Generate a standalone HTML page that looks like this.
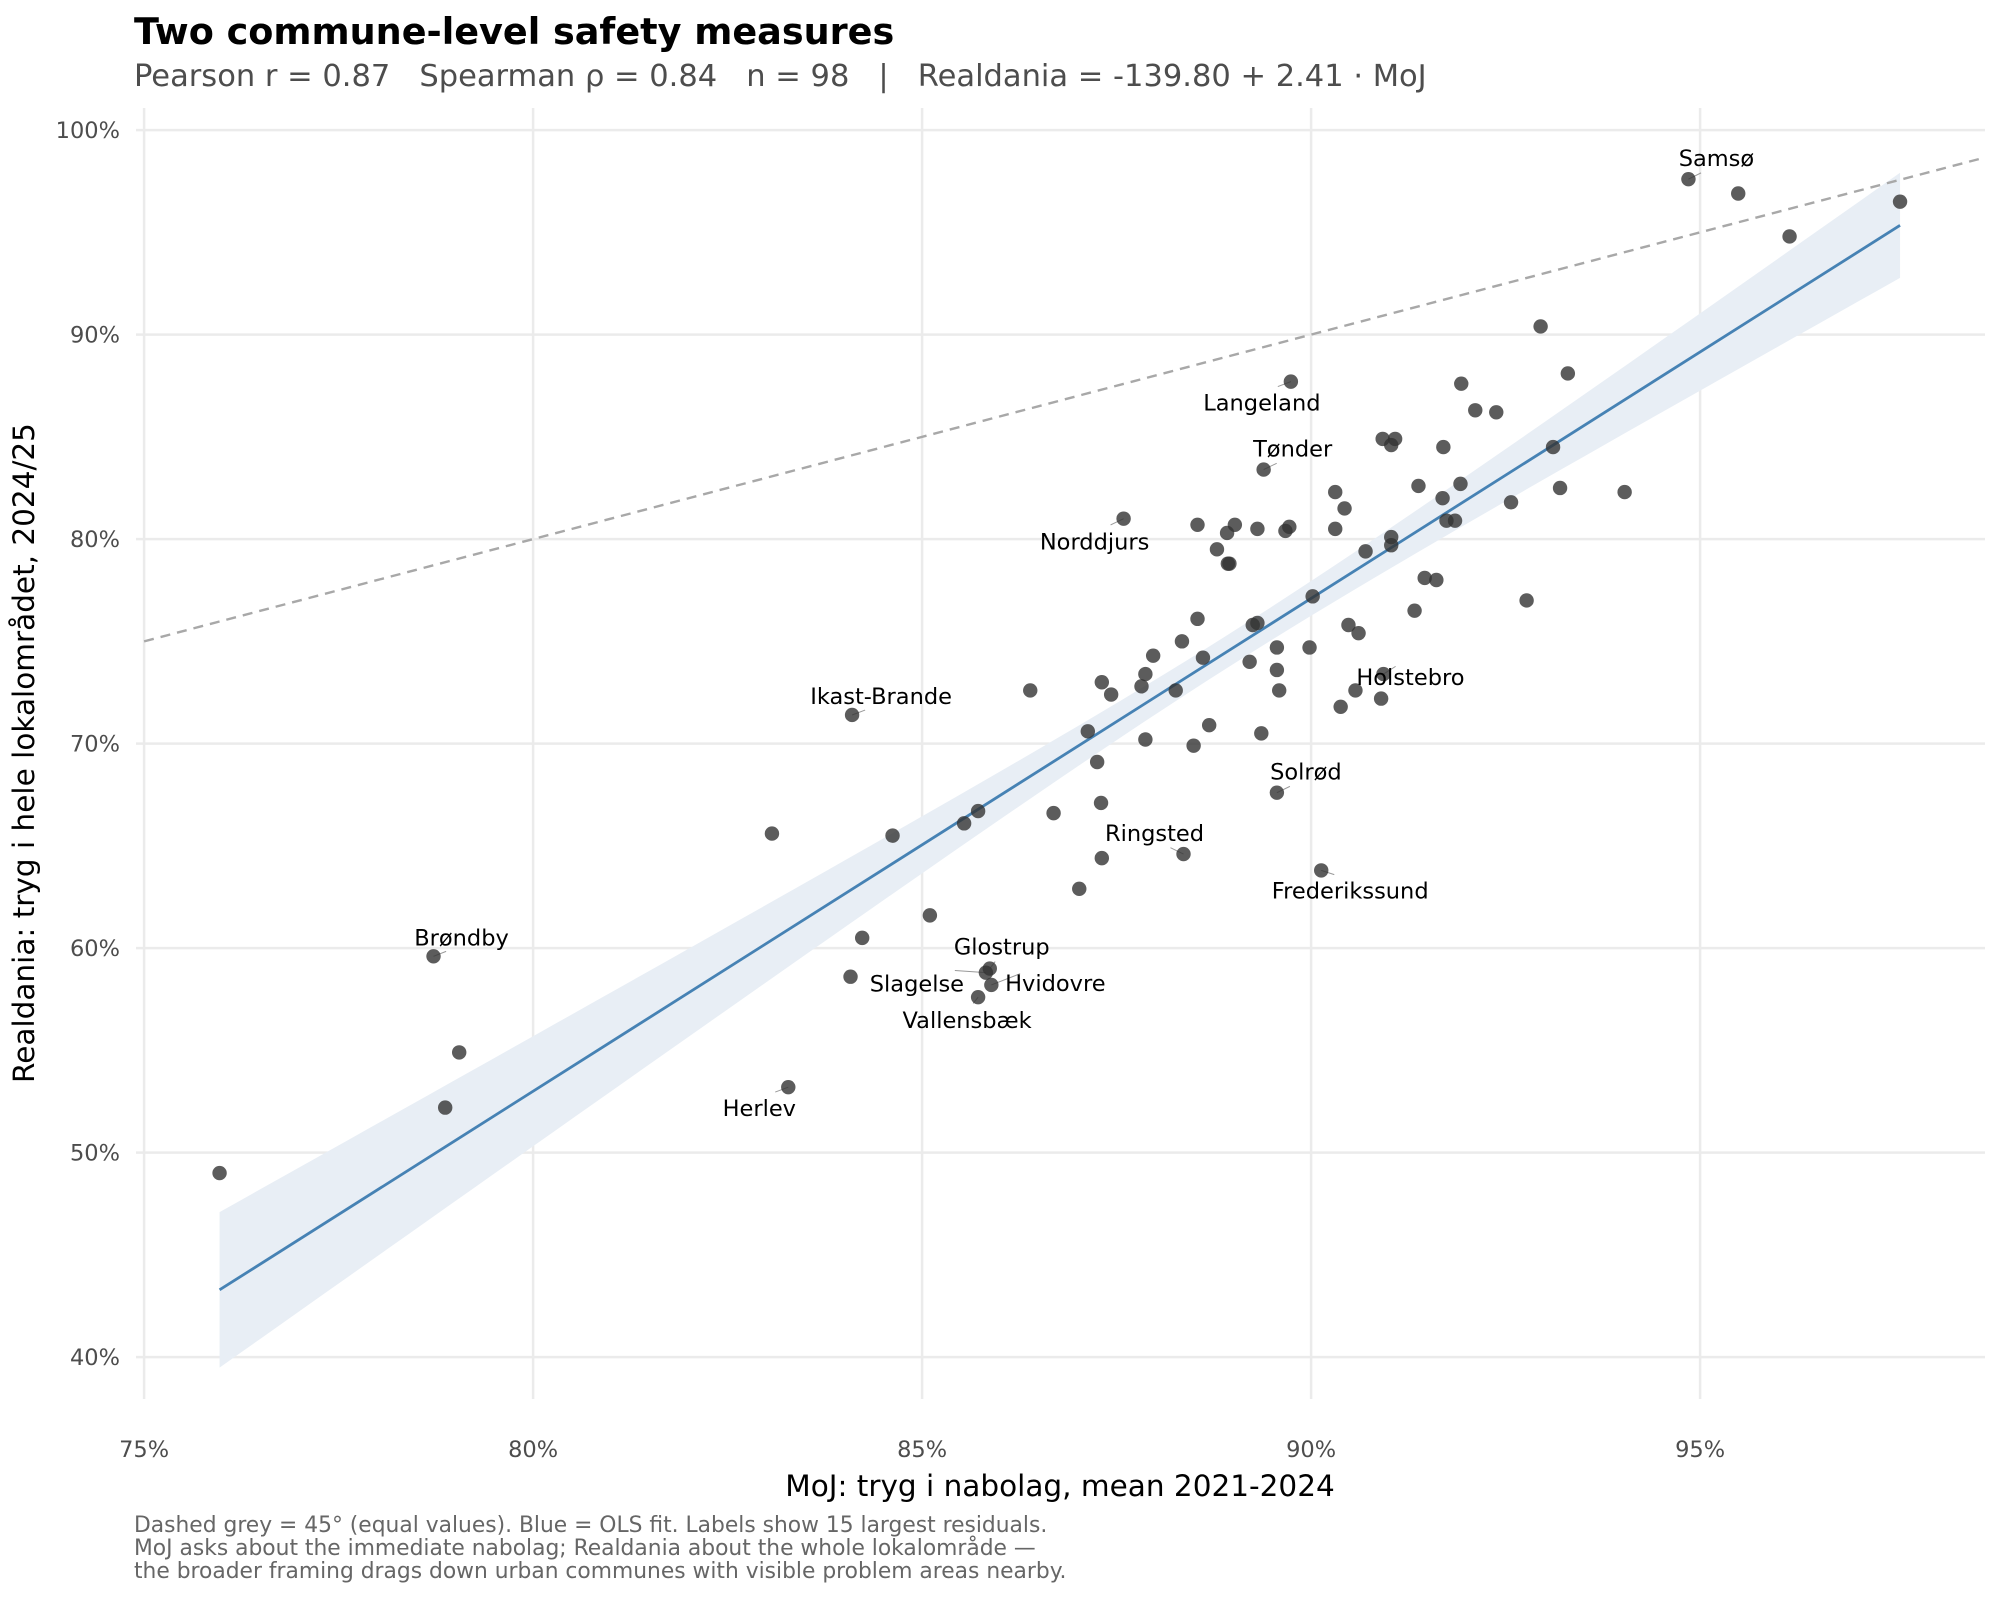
<!DOCTYPE html>
<html><head><meta charset="utf-8"><style>
body{margin:0;background:#fff}
svg{display:block;font-family:"DejaVu Sans","Liberation Sans",sans-serif}
text{white-space:pre}
</style></head><body>
<svg id="chart" width="2000" height="1600" viewBox="0 0 2000 1600" xml:space="preserve">
<rect width="2000" height="1600" fill="#fff"/>
<text x="134" y="44" font-size="36.6" font-weight="bold" fill="#000">Two commune-level safety measures</text>
<text x="134" y="86" font-size="30.5" fill="#4d4d4d">Pearson r = 0.87   Spearman ρ = 0.84   n = 98   |   Realdania = -139.80 + 2.41 · MoJ</text>
<g id="grid"></g>
<g id="band"></g>
<g id="marks"></g>
<g id="axes"></g>
<text x="1060" y="1496" font-size="29.5" text-anchor="middle" fill="#000">MoJ: tryg i nabolag, mean 2021-2024</text>
<text transform="translate(34,753) rotate(-90)" font-size="29.5" text-anchor="middle" fill="#000">Realdania: tryg i hele lokalområdet, 2024/25</text>
<g font-size="21.8" fill="#666">
<text x="134" y="1532">Dashed grey = 45° (equal values). Blue = OLS fit. Labels show 15 largest residuals.</text>
<text x="134" y="1555">MoJ asks about the immediate nabolag; Realdania about the whole lokalområde —</text>
<text x="134" y="1578">the broader framing drags down urban communes with visible problem areas nearby.</text>
</g>
</svg>
<script>
const xTicks=[75,80,85,90,95];
const yTicks=[40,50,60,70,80,90,100];
const xTickLabels=["75%","80%","85%","90%","95%"];
const yTickLabels=["40%","50%","60%","70%","80%","90%","100%"];
const mojValues=[75.97,78.72,78.87,79.05,83.07,83.28,84.10,84.08,84.23,84.62,85.10,85.54,85.72,85.72,85.82,85.87,85.89,86.39,86.69,87.02,87.13,87.25,87.30,87.31,87.31,87.43,87.59,87.82,87.87,87.87,87.97,88.26,88.34,88.36,88.49,88.54,88.54,88.61,88.69,88.79,88.92,88.93,88.95,89.02,89.21,89.25,89.31,89.31,89.36,89.39,89.56,89.56,89.56,89.59,89.67,89.72,89.74,89.98,90.02,90.13,90.31,90.31,90.38,90.43,90.48,90.57,90.61,90.70,90.90,90.92,90.93,91.03,91.03,91.03,91.08,91.33,91.38,91.46,91.61,91.69,91.70,91.74,91.85,91.92,91.93,92.11,92.38,92.57,92.77,92.95,93.11,93.20,93.30,94.03,94.85,95.49,96.15,97.57];
const realdaniaValues=[49.0,59.6,52.2,54.9,65.6,53.2,71.4,58.6,60.5,65.5,61.6,66.1,66.7,57.6,58.8,59.0,58.2,72.6,66.6,62.9,70.6,69.1,67.1,64.4,73.0,72.4,81.0,72.8,73.4,70.2,74.3,72.6,75.0,64.6,69.9,76.1,80.7,74.2,70.9,79.5,80.3,78.8,78.8,80.7,74.0,75.8,75.9,80.5,70.5,83.4,67.6,74.7,73.6,72.6,80.4,80.6,87.7,74.7,77.2,63.8,82.3,80.5,71.8,81.5,75.8,72.6,75.4,79.4,72.2,84.9,73.4,84.6,80.1,79.7,84.9,76.5,82.6,78.1,78.0,82.0,84.5,80.9,80.9,82.7,87.6,86.3,86.2,81.8,77.0,90.4,84.5,82.5,88.1,82.3,97.6,96.9,94.8,96.5];
const labelIndex=[94,56,49,26,6,70,50,33,59,1,15,14,16,13,5];
const labelNames=["Samsø","Langeland","Tønder","Norddjurs","Ikast-Brande","Holstebro","Solrød","Ringsted","Frederikssund","Brøndby","Glostrup","Slagelse","Hvidovre","Vallensbæk","Herlev"];
const labelDx=[28,-29,29,-29,29,27,29,-29,29,28,12,-69,64,-11,-29];
const labelDy=[-13,29,-13,31,-11,11,-13,-13,28,-11,-14,19,6,31,29];
const fitIntercept=-139.80, fitSlope=2.41;

const NS="http://www.w3.org/2000/svg";
const X0=144.1,XS=77.8,Y0=130.1,YS=20.45;
const PL=144,PR=1985,PT=108,PB=1399;
const sx=v=>X0+(v-75)*XS;
const sy=v=>Y0+(100-v)*YS;
function mk(tag,attrs,parent){const e=document.createElementNS(NS,tag);for(const k in attrs)e.setAttribute(k,attrs[k]);parent.appendChild(e);return e;}
const grid=document.getElementById('grid'),axes=document.getElementById('axes'),marks=document.getElementById('marks'),band=document.getElementById('band');
xTicks.forEach((t,i)=>{
  const l=mk('line',{x1:sx(t),x2:sx(t),y1:PT,y2:PB,stroke:'#ebebeb','stroke-width':2.5},grid);
  
  
  const tx=mk('text',{x:sx(t),y:1457,'font-size':22.5,'text-anchor':'middle',fill:'#4d4d4d'},axes);
  tx.textContent=xTickLabels[i];
  
  
});
yTicks.forEach((t,i)=>{
  const l=mk('line',{x1:PL-8,x2:PR,y1:sy(t),y2:sy(t),stroke:'#ebebeb','stroke-width':2.5},grid);
  
  
  const tx=mk('text',{x:120,y:sy(t)+8,'font-size':22.5,'text-anchor':'end',fill:'#4d4d4d'},axes);
  tx.textContent=yTickLabels[i];
  
  
});
const xEnd=75+(PR-X0)/XS;
const dl=mk('line',{x1:sx(75),y1:sy(75),x2:sx(xEnd),y2:sy(xEnd),stroke:'#a8a8a8','stroke-width':2.4,'stroke-dasharray':'10,7'},marks);


const n=mojValues.length;
const mx=mojValues.reduce((a,b)=>a+b,0)/n;
const xmin=Math.min(...mojValues),xmax=Math.max(...mojValues);
const up=[],lo=[];
for(let i=0;i<=80;i++){
  const x=xmin+(xmax-xmin)*i/80;
  const yh=fitIntercept+fitSlope*x;
  const hw=Math.sqrt(0.64+0.0814*(x-mx)*(x-mx));
  up.push(sx(x)+','+sy(yh+hw));lo.unshift(sx(x)+','+sy(yh-hw));
}
const bp=mk('polygon',{points:up.concat(lo).join(' '),fill:'#e8eef5'},band);


const fl=mk('line',{x1:sx(xmin),y1:sy(fitIntercept+fitSlope*xmin),x2:sx(xmax),y2:sy(fitIntercept+fitSlope*xmax),stroke:'#4682b4','stroke-width':2.8},marks);


labelIndex.forEach((pi,k)=>{
  const px=sx(mojValues[pi]),py=sy(realdaniaValues[pi]);
  const tx=px+labelDx[k],ty=py+labelDy[k];
  const cy=labelDy[k]<0?ty+4:ty-22;
  const seg=mk('line',{x1:px,y1:py,x2:px+(tx-px)*0.45,y2:py+(cy-py)*0.7,stroke:'#999','stroke-width':1},marks);
  
  
});
mojValues.forEach((v,i)=>{
  const c=mk('circle',{cx:sx(v),cy:sy(realdaniaValues[i]),r:7.2,fill:'#333','fill-opacity':0.8},marks);
  
  
});
labelIndex.forEach((pi,k)=>{
  const px=sx(mojValues[pi]),py=sy(realdaniaValues[pi]);
  const t=mk('text',{x:px+labelDx[k],y:py+labelDy[k],'font-size':22.5,'text-anchor':'middle',fill:'#000'},marks);
  t.textContent=labelNames[k];
  
  
});
</script>
</body></html>
